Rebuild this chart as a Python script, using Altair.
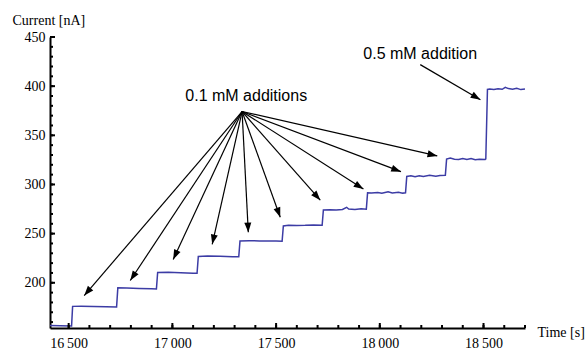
import math
import altair as alt
import pandas as pd

# ---------------- data ----------------
trace_t = [16410, 16460, 16514, 16519, 16560, 16620, 16680, 16731, 16737, 16780, 16840, 16900,
           16923, 16929, 16980, 17040, 17100, 17119, 17125, 17170, 17230, 17290, 17320, 17326,
           17370, 17420, 17470, 17500, 17529, 17535, 17560, 17600, 17640, 17680, 17722, 17728,
           17760, 17790, 17820, 17840, 17850, 17880, 17910, 17935, 17941, 17960, 17990, 18010,
           18040, 18060, 18090, 18110, 18124, 18130, 18150, 18170, 18190, 18210, 18240, 18270,
           18290, 18316, 18322, 18340, 18360, 18380, 18400, 18420, 18440, 18460, 18480, 18508,
           18511, 18519, 18530, 18550, 18570, 18590, 18605, 18620, 18640, 18660, 18680, 18700]
trace_i = [156.5, 156.2, 156.0, 176.0, 176.2, 175.8, 175.6, 175.3, 194.8, 194.6, 194.2, 193.8,
           193.6, 210.5, 210.6, 210.2, 209.8, 209.6, 226.8, 227.2, 226.9, 226.6, 226.5, 242.6,
           242.8, 242.6, 242.5, 242.4, 242.3, 257.8, 258.6, 258.3, 258.4, 258.7, 258.5, 274.0,
           274.3, 274.0, 274.6, 276.8, 275.0, 274.6, 275.2, 274.8, 291.5, 291.2, 291.8, 291.0,
           292.6, 291.4, 292.0, 291.2, 291.5, 308.2, 308.8, 307.9, 308.9, 308.1, 309.3, 308.4,
           309.0, 309.4, 325.8, 326.9, 325.7, 325.3, 326.5, 325.4, 326.4, 325.2, 325.6, 325.5,
           326.0, 396.8, 397.2, 396.6, 397.4, 396.8, 398.8, 397.5, 396.9, 397.8, 396.5, 397.0]

# arrows: 0.1 mM additions (common origin) and 0.5 mM addition
arrow_t0 = [17336] * 10 + [18195]
arrow_i0 = [374.2] * 10 + [421.9]
arrow_t1 = [16575, 16797, 17004, 17192, 17366, 17520, 17713, 17921, 18102, 18277, 18485]
arrow_i1 = [187.0, 202.3, 223.8, 239.1, 251.3, 266.7, 284.0, 295.3, 313.0, 329.0, 386.2]

label_text = ["0.1 mM additions", "0.5 mM addition"]
label_t = [17356, 18195]
label_i = [390.2, 433.1]

x_major = [16500, 17000, 17500, 18000, 18500]
x_minor = [16500 + 100 * k for k in range(23)]
y_major = [200, 250, 300, 350, 400, 450]
y_minor = [160 + 10 * k for k in range(30)]

X_DOM = [16410, 18700]
Y_DOM = [154, 450]
W, H = 475, 291

SERIF = "Liberation Serif"
SANS = "Liberation Sans"

xs = alt.Scale(domain=X_DOM, nice=False, zero=False)
ys = alt.Scale(domain=Y_DOM, nice=False, zero=False)

x_axis = alt.Axis(
    values=x_major, title="Time [s]", ticks=False, grid=False,
    domainColor="black", domainWidth=2,
    labelExpr="replace(format(datum.value, ','), ',', '\u2009')",
    labelFont=SERIF, labelFontSize=14, labelColor="black", labelPadding=8,
    titleFont=SERIF, titleFontSize=14, titleFontWeight="normal", titleColor="black",
    titleX=487, titleY=4, titleAlign="left", titleBaseline="middle", titleAngle=0,
)
y_axis = alt.Axis(
    values=y_major, title="Current [nA]", ticks=False, grid=False,
    domainColor="black", domainWidth=2,
    labelFont=SERIF, labelFontSize=14, labelColor="black", labelPadding=5,
    titleFont=SERIF, titleFontSize=14, titleFontWeight="normal", titleColor="black",
    titleX=-38, titleY=-17, titleAlign="left", titleBaseline="middle", titleAngle=0,
)

trace_df = pd.DataFrame({"t": trace_t, "i": trace_i})
trace = alt.Chart(trace_df).mark_line(color="#3c3ca5", strokeWidth=1.5).encode(
    x=alt.X("t:Q", scale=xs, axis=x_axis),
    y=alt.Y("i:Q", scale=ys, axis=y_axis),
)

# arrowhead angles from pixel geometry of the scales
sx = W / (X_DOM[1] - X_DOM[0])
sy = H / (Y_DOM[1] - Y_DOM[0])
angles = []
for a, b, c, d in zip(arrow_t0, arrow_i0, arrow_t1, arrow_i1):
    dx = (c - a) * sx
    dy = -(d - b) * sy
    ang = math.degrees(math.atan2(dx, -dy)) % 360
    angles.append(ang)

arrow_df = pd.DataFrame({"t0": arrow_t0, "i0": arrow_i0, "t1": arrow_t1, "i1": arrow_i1,
                         "ang": angles})
shafts = alt.Chart(arrow_df).mark_rule(color="black", strokeWidth=1.2).encode(
    x=alt.X("t0:Q", scale=xs), y=alt.Y("i0:Q", scale=ys),
    x2="t1:Q", y2="i1:Q",
)
heads = alt.Chart(arrow_df).mark_point(
    shape="M0,0 L0.36,1 L-0.36,1 Z", filled=True, color="black", opacity=1, size=380,
    strokeWidth=0,
).encode(
    x=alt.X("t1:Q", scale=xs), y=alt.Y("i1:Q", scale=ys),
    angle=alt.Angle("ang:Q", scale=None),
)

labels_df = pd.DataFrame({"txt": label_text, "t": label_t, "i": label_i})
labels = alt.Chart(labels_df).mark_text(
    font=SANS, fontSize=16, color="black", align="center", baseline="middle"
).encode(x=alt.X("t:Q", scale=xs), y=alt.Y("i:Q", scale=ys), text="txt:N")

# inward ticks
ymaj = alt.Chart(pd.DataFrame({"v": y_major})).mark_rule(color="black", strokeWidth=2).encode(
    y=alt.Y("v:Q", scale=ys), x=alt.value(0), x2=alt.value(5))
ymin = alt.Chart(pd.DataFrame({"v": y_minor})).mark_rule(color="black", strokeWidth=2).encode(
    y=alt.Y("v:Q", scale=ys), x=alt.value(0), x2=alt.value(3))
xmaj = alt.Chart(pd.DataFrame({"v": x_major})).mark_rule(color="black", strokeWidth=2).encode(
    x=alt.X("v:Q", scale=xs), y=alt.value(H), y2=alt.value(H - 5))
xmin = alt.Chart(pd.DataFrame({"v": x_minor})).mark_rule(color="black", strokeWidth=2).encode(
    x=alt.X("v:Q", scale=xs), y=alt.value(H), y2=alt.value(H - 3))

chart = alt.layer(trace, shafts, heads, labels, ymaj, ymin, xmaj, xmin).properties(
    width=W, height=H,
    padding={"left": 50, "top": 37, "right": 62, "bottom": 22},
    autosize=alt.AutoSizeParams(type="none"),
    background="white",
).configure_view(stroke=None)

chart.save("out.html", embed_options={"renderer": "svg", "actions": False})
